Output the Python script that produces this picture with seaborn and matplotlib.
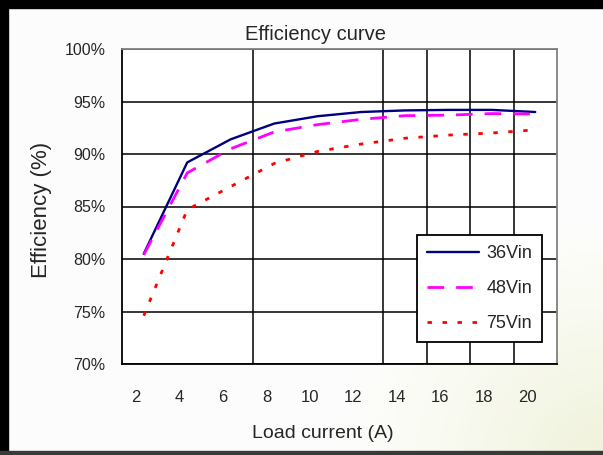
import numpy as np
import pandas as pd
import matplotlib.pyplot as plt
from matplotlib.patches import Rectangle
import seaborn as sns

# values
load_a = [2, 4, 6, 8, 10, 12, 14, 16, 18, 20]
eff_36vin = [80.5, 89.2, 91.4, 92.9, 93.6, 94.0, 94.15, 94.2, 94.2, 94.0]
eff_48vin = [80.4, 88.2, 90.5, 92.1, 92.8, 93.3, 93.65, 93.7, 93.85, 93.8]
eff_75vin = [74.6, 84.7, 86.9, 89.1, 90.25, 90.95, 91.5, 91.8, 92.0, 92.3]
series_names = ["36Vin", "48Vin", "75Vin"]
y_ticks = [70, 75, 80, 85, 90, 95, 100]

W, H = 603, 455

sns.set_style("white")
plt.rcParams["font.family"] = ["Liberation Sans", "DejaVu Sans"]

df = pd.DataFrame({
    "slot": list(range(len(load_a))) * 3,
    "eff": eff_36vin + eff_48vin + eff_75vin,
    "series": np.repeat(series_names, len(load_a)),
})

line_styles = {
    "36Vin": dict(color="#000080", linewidth=1.7, linestyle="-"),
    "48Vin": dict(color="#FF00FF", linewidth=2.0, linestyle=(0, (6.0, 4.3))),
    "75Vin": dict(color="#FF0000", linewidth=2.0, linestyle=(0, (1.6, 3.8))),
}

fig = plt.figure(figsize=(W / 100, H / 100), dpi=100)
fig.patch.set_facecolor("white")

# faint cream wash fading in from the lower right corner of the slide
gx, gy = np.meshgrid(np.linspace(0, 1, W), np.linspace(0, 1, H))
d = np.hypot((1 - gx) * 1.2, (1 - gy) * 1.0)
w = np.clip(1 - d / 0.6, 0, 1) ** 1.2
cream = np.array([0.94, 0.95, 0.86])
img = np.minimum(1 - w[..., None] * (1 - cream), 0.992)
fig.figimage(img, xo=0, yo=0, origin="upper", zorder=-10)

ax = fig.add_axes([122 / W, 1 - 364 / H, (557 - 122) / W, (364 - 49) / H])
ax.set_facecolor("white")

for name in series_names:
    sub = df[df["series"] == name]
    sns.lineplot(data=sub, x="slot", y="eff", ax=ax, label=name, **line_styles[name])

ax.set_xlim(-0.5, len(load_a) - 0.5)
ax.set_ylim(70, 100)
ax.set_yticks(y_ticks)
ax.set_yticklabels([f"{v}%" for v in y_ticks])
ax.set_xticks(np.arange(len(load_a)) - 0.18)
ax.set_xticklabels([str(v) for v in load_a])
ax.set_xticks([2.5, 5.5, 6.5, 7.5, 8.5], minor=True)
ax.tick_params(axis="both", which="both", length=0)
ax.tick_params(axis="y", labelsize=11.5, pad=12)
ax.tick_params(axis="x", labelsize=12, pad=19)
ax.set_axisbelow(True)
ax.grid(axis="y", which="major", color="black", linewidth=1.1)
ax.grid(axis="x", which="minor", color="black", linewidth=1.1)
ax.grid(axis="x", which="major", visible=False)
ax.set_xlabel("")
ax.set_ylabel("")

for side in ["left", "bottom"]:
    ax.spines[side].set_color("black")
    ax.spines[side].set_linewidth(1.3)
for side in ["top", "right"]:
    ax.spines[side].set_color("#808080")
    ax.spines[side].set_linewidth(1.3)

leg = ax.legend(loc="upper left", bbox_to_anchor=(417 / W, 1 - 235 / H),
                bbox_transform=fig.transFigure, borderaxespad=0,
                fontsize=13, handlelength=2.9, handletextpad=0.4,
                borderpad=0.55, labelspacing=1.0, fancybox=False,
                framealpha=1, edgecolor="black")
leg.get_frame().set_linewidth(1.3)

fig.text(316 / W, 1 - 34 / H, "Efficiency curve", ha="center", va="center", fontsize=14.5)
fig.text(323 / W, 1 - 434 / H, "Load current (A)", ha="center", va="center", fontsize=14)
fig.text(41 / W, 1 - 210 / H, "Efficiency (%)", ha="center", va="center",
         rotation=90, fontsize=16)

# slide frame
fig.patches.append(Rectangle((0, 1 - 8 / H), 1, 8 / H, transform=fig.transFigure,
                             color="black", zorder=60))
fig.patches.append(Rectangle((0, 0), 8 / W, 1, transform=fig.transFigure,
                             color="black", zorder=60))
fig.patches.append(Rectangle((0, 0), 1, 4 / H, transform=fig.transFigure,
                             color="#3a3a3a", zorder=60))

fig.savefig("out.png", dpi=100, facecolor="white")
